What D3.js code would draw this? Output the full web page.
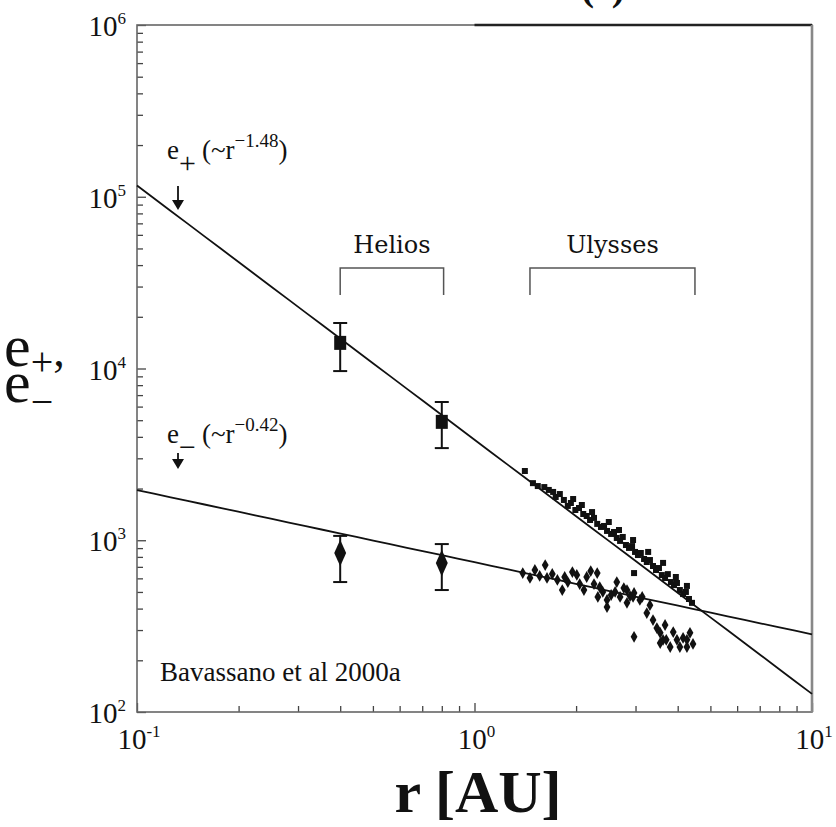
<!DOCTYPE html>
<html>
<head>
<meta charset="utf-8">
<script src="https://cdn.jsdelivr.net/npm/d3@7/dist/d3.min.js"></script>
<style>
  html, body { margin: 0; padding: 0; background: #fff; }
  svg { display: block; }
  text { fill: #111; }
</style>
</head>
<body>
<svg id="chart" width="836" height="827"></svg>
<script>
// ---- data --------------------------------------------------------------
// axis decades
const xDecades = [0.1, 1, 10];
const xDecadeExp = ["-1", "0", "1"];
const yDecades = [1e2, 1e3, 1e4, 1e5, 1e6];
const yDecadeExp = ["2", "3", "4", "5", "6"];

// power-law fits e = coef * r^exp
const fitPlus = { coef: 3850, exp: -1.48 };
const fitMinus = { coef: 745, exp: -0.42 };

// Helios averages (r in AU) with error bars
const heliosR = [0.4, 0.8];
const heliosPlus = [14100, 4890];
const heliosPlusLo = [9660, 3440];
const heliosPlusHi = [18400, 6380];
const heliosMinus = [843, 736];
const heliosMinusLo = [571, 513];
const heliosMinusHi = [1060, 950];

// Ulysses samples of e+ : [r (AU), energy]
const ulyssesPlus = [
  [1.41, 2530], [1.49, 2150], [1.54, 2068], [1.61, 2040], [1.66, 1963],
  [1.71, 1911], [1.74, 1786], [1.79, 1858], [1.84, 1716], [1.89, 1584],
  [1.93, 1648], [1.96, 1738], [1.99, 1500], [2.04, 1541], [2.08, 1604],
  [2.10, 1422], [2.15, 1384], [2.20, 1312], [2.23, 1459], [2.26, 1349],
  [2.31, 1245], [2.37, 1195], [2.42, 1211], [2.47, 1133], [2.50, 1277],
  [2.54, 1088], [2.59, 1117], [2.64, 1031], [2.68, 1147], [2.70, 991],
  [2.75, 1045], [2.81, 938], [2.87, 902], [2.93, 925], [2.95, 1003],
  [2.97, 644], [2.99, 855], [3.05, 820], [3.11, 843], [3.18, 778],
  [3.24, 747], [3.27, 855], [3.31, 767], [3.38, 708], [3.45, 671],
  [3.52, 689], [3.59, 627], [3.62, 738], [3.67, 603], [3.74, 635],
  [3.82, 571], [3.90, 548], [3.95, 611], [3.98, 564], [4.06, 513],
  [4.15, 486], [4.23, 500], [4.26, 542], [4.32, 455], [4.41, 432]
];

// Ulysses samples of e- : [r (AU), energy]
const ulyssesMinus = [
  [1.39, 644], [1.46, 603], [1.51, 671], [1.56, 620], [1.62, 717],
  [1.64, 603], [1.70, 636], [1.76, 587], [1.82, 513], [1.85, 611],
  [1.89, 571], [1.95, 653], [2.01, 628], [2.05, 556], [2.11, 513],
  [2.15, 611], [2.21, 662], [2.26, 556], [2.31, 644], [2.35, 534],
  [2.32, 468], [2.40, 500], [2.47, 449], [2.47, 408], [2.54, 480],
  [2.61, 500], [2.64, 571], [2.70, 468], [2.77, 527], [2.83, 432],
  [2.83, 513], [2.89, 473], [2.95, 468], [2.97, 493], [3.09, 449],
  [3.14, 468], [3.24, 377], [3.31, 419], [3.38, 343], [2.97, 274],
  [3.47, 308], [3.55, 289], [3.62, 263], [3.70, 263], [3.80, 239],
  [3.88, 292], [3.98, 263], [4.06, 239], [4.15, 270], [4.26, 263],
  [4.35, 289], [4.26, 239], [3.55, 252], [3.67, 321], [4.44, 249]
];

// spacecraft coverage brackets (AU)
const missions = ["Helios", "Ulysses"];
const missionStart = [0.4, 1.46];
const missionEnd = [0.81, 4.5];

// ---- layout ------------------------------------------------------------
const svg = d3.select("#chart");
const L = 137, R = 812, T = 25, B = 712;
const x = d3.scaleLog().domain([0.1, 10]).range([L, R]);
const y = d3.scaleLog().domain([1e2, 1e6]).range([B, T]);
const serif = "'Liberation Serif', 'Times New Roman', serif";
const wideSerif = "'DejaVu Serif', serif";

// minor tick values for each decade
const minorX = [], minorY = [];
for (let d = 0; d < xDecades.length - 1; d++)
  for (let k = 2; k <= 9; k++) minorX.push(xDecades[d] * k);
for (let d = 0; d < yDecades.length - 1; d++)
  for (let k = 2; k <= 9; k++) minorY.push(yDecades[d] * k);

// ticks pointing into the plot
function tickAxis(axis, vals, size, tx, ty) {
  const g = svg.append("g").attr("transform", `translate(${tx},${ty})`)
    .call(axis.tickValues(vals).tickSize(-size).tickFormat(""));
  g.select(".domain").remove();
  g.selectAll(".tick line").attr("stroke", "#444").attr("stroke-width", 1.3);
}
tickAxis(d3.axisBottom(x), minorX, 6, 0, B);
tickAxis(d3.axisBottom(x), xDecades, 9, 0, B);
tickAxis(d3.axisLeft(y), minorY, 6, L, 0);
tickAxis(d3.axisLeft(y), yDecades, 9, L, 0);

// frame
svg.append("rect").attr("x", L).attr("y", T).attr("width", R - L).attr("height", B - T)
  .attr("fill", "none").attr("stroke", "#666").attr("stroke-width", 1.6);
svg.append("line").attr("x1", x(1)).attr("x2", R).attr("y1", T).attr("y2", T)
  .attr("stroke", "#222").attr("stroke-width", 2.6);
svg.append("line").attr("x1", R).attr("x2", R).attr("y1", T).attr("y2", B)
  .attr("stroke", "#888").attr("stroke-width", 2.6);

// power-ten labels
function powerLabel(px, py, exp, anchor) {
  const t = svg.append("text").attr("x", px).attr("y", py)
    .attr("text-anchor", anchor).attr("font-family", serif).attr("font-size", 29);
  t.append("tspan").text("10");
  t.append("tspan").attr("font-size", 17).attr("dy", -12).text(exp);
}
xDecades.forEach((v, i) => powerLabel(x(v) + 2, B + 37, xDecadeExp[i], "middle"));
yDecades.forEach((v, i) => powerLabel(L - 11, y(v) + 11, yDecadeExp[i], "end"));

// fit lines
const rLine = d3.range(0, 41).map(i => Math.pow(10, -1 + i * 0.05));
const line = d3.line().x(d => x(d[0])).y(d => y(d[1]));
[fitPlus, fitMinus].forEach(f => {
  svg.append("path")
    .datum(rLine.map(r => [r, f.coef * Math.pow(r, f.exp)]))
    .attr("d", line).attr("fill", "none").attr("stroke", "#111").attr("stroke-width", 1.8);
});

// Ulysses points
const plot = svg.append("g");
plot.selectAll(".up").data(ulyssesPlus).join("rect")
  .attr("x", d => x(d[0]) - 3).attr("y", d => y(d[1]) - 3)
  .attr("width", 6).attr("height", 6).attr("fill", "#111");
const diamond = d3.symbol().type(d3.symbolDiamond);
plot.selectAll(".um").data(ulyssesMinus).join("path")
  .attr("transform", d => `translate(${x(d[0])},${y(d[1])})`)
  .attr("d", diamond.size(40)()).attr("fill", "#111");

// Helios points with error bars
function errorBar(r, lo, hi) {
  const cx = x(r), w = 7;
  const g = svg.append("g").attr("stroke", "#111").attr("stroke-width", 2);
  g.append("line").attr("x1", cx).attr("x2", cx).attr("y1", y(lo)).attr("y2", y(hi));
  g.append("line").attr("x1", cx - w).attr("x2", cx + w).attr("y1", y(lo)).attr("y2", y(lo));
  g.append("line").attr("x1", cx - w).attr("x2", cx + w).attr("y1", y(hi)).attr("y2", y(hi));
}
heliosR.forEach((r, i) => {
  errorBar(r, heliosPlusLo[i], heliosPlusHi[i]);
  errorBar(r, heliosMinusLo[i], heliosMinusHi[i]);
  svg.append("rect").attr("x", x(r) - 6).attr("y", y(heliosPlus[i]) - 7)
    .attr("width", 12).attr("height", 14).attr("fill", "#111");
  svg.append("path").attr("transform", `translate(${x(r)},${y(heliosMinus[i])}) scale(0.85,1.1)`)
    .attr("d", d3.symbol().type(d3.symbolDiamond).size(170)()).attr("fill", "#111");
});

// mission brackets
missions.forEach((m, i) => {
  const x0 = x(missionStart[i]), x1 = x(missionEnd[i]);
  svg.append("path").attr("d", `M${x0},295V268H${x1}V295`)
    .attr("fill", "none").attr("stroke", "#555").attr("stroke-width", 1.5);
  svg.append("text").attr("x", (x0 + x1) / 2).attr("y", 253).attr("text-anchor", "middle")
    .attr("font-family", wideSerif).attr("font-size", 24).text(m);
});

// fit annotations with arrows
function fitNote(px, py, sub, expText, arrowTop, arrowTip) {
  const t = svg.append("text").attr("x", px).attr("y", py)
    .attr("font-family", serif).attr("font-size", 27);
  t.append("tspan").text("e");
  t.append("tspan").attr("dy", 14).attr("font-size", 30).text(sub);
  t.append("tspan").attr("dy", -14).attr("dx", 6).text("(~r");
  t.append("tspan").attr("dy", -12).attr("font-size", 19).text(expText);
  t.append("tspan").attr("dy", 12).text(")");
  svg.append("line").attr("x1", px + 11).attr("x2", px + 11).attr("y1", arrowTop).attr("y2", arrowTip - 8)
    .attr("stroke", "#111").attr("stroke-width", 1.8);
  svg.append("path").attr("d", `M${px + 5},${arrowTip - 10}L${px + 17},${arrowTip - 10}L${px + 11},${arrowTip}Z`)
    .attr("fill", "#111");
}
fitNote(167, 159, "+", "\u22121.48", 186, 210);
fitNote(167, 443, "\u2212", "\u22120.42", 453, 469);

// source note
svg.append("text").attr("x", 160).attr("y", 681).attr("font-family", serif)
  .attr("font-size", 27).text("Bavassano et al 2000a");

// axis titles (two stacked lines)
const yt1 = svg.append("text").attr("font-family", serif).attr("font-size", 60)
  .attr("x", 4).attr("y", 366);
yt1.append("tspan").text("e");
yt1.append("tspan").attr("font-size", 40).attr("dy", 9).text("+");
yt1.append("tspan").attr("font-size", 46).attr("dy", -9).text(",");
const yt2 = svg.append("text").attr("font-family", serif).attr("font-size", 60)
  .attr("x", 4).attr("y", 402);
yt2.append("tspan").text("e");
yt2.append("tspan").attr("font-size", 40).attr("dy", 13).text("\u2212");

svg.append("text").attr("x", 478).attr("y", 812).attr("text-anchor", "middle")
  .attr("font-family", serif).attr("font-weight", "bold").attr("font-size", 60).text("r [AU]");

// panel tag cut by the top edge
svg.append("text").attr("x", 603).attr("y", 0).attr("text-anchor", "middle")
  .attr("font-family", serif).attr("font-weight", "bold").attr("font-size", 40).text("(c)");
</script>
</body>
</html>
